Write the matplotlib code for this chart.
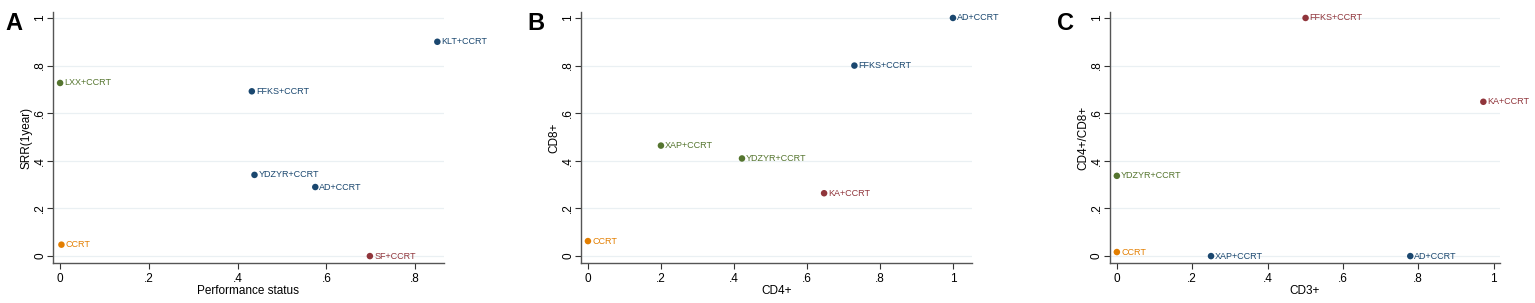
import matplotlib
matplotlib.use("Agg")
import matplotlib.pyplot as plt

plt.rcParams['font.family'] = ['Liberation Sans', 'DejaVu Sans']

NAVY = '#1a476f'
MAROON = '#90353b'
GREEN = '#55752f'
ORANGE = '#e37e00'

# Panel A
a_labels = ['KLT+CCRT', 'LXX+CCRT', 'FFKS+CCRT', 'YDZYR+CCRT', 'AD+CCRT', 'CCRT', 'SF+CCRT']
a_x = [0.850, 0.0, 0.432, 0.438, 0.575, 0.003, 0.698]
a_y = [0.900, 0.727, 0.692, 0.341, 0.290, 0.048, 0.0]
a_col = [NAVY, GREEN, NAVY, NAVY, NAVY, ORANGE, MAROON]

# Panel B
b_labels = ['AD+CCRT', 'FFKS+CCRT', 'XAP+CCRT', 'YDZYR+CCRT', 'KA+CCRT', 'CCRT']
b_x = [1.0, 0.730, 0.200, 0.422, 0.647, 0.0]
b_y = [1.0, 0.800, 0.464, 0.410, 0.264, 0.063]
b_col = [NAVY, NAVY, GREEN, GREEN, MAROON, ORANGE]

# Panel C
c_labels = ['FFKS+CCRT', 'KA+CCRT', 'YDZYR+CCRT', 'CCRT', 'XAP+CCRT', 'AD+CCRT']
c_x = [0.501, 0.973, 0.0, 0.0, 0.250, 0.779]
c_y = [1.0, 0.648, 0.337, 0.017, 0.0, 0.0]
c_col = [MAROON, MAROON, GREEN, ORANGE, NAVY, NAVY]

x_ticks_a = [0, 0.2, 0.4, 0.6, 0.8]
x_ticks_bc = [0, 0.2, 0.4, 0.6, 0.8, 1.0]
y_ticks = [0, 0.2, 0.4, 0.6, 0.8, 1.0]
tick_text = {0: '0', 0.2: '.2', 0.4: '.4', 0.6: '.6', 0.8: '.8', 1.0: '1'}

W, H = 1535, 303
fig = plt.figure(figsize=(W / 100, H / 100), dpi=100)
fig.patch.set_facecolor('white')

panels = [
    dict(letter='A', rect=(53, 444), xlim=(-0.016, 0.865), xt=x_ticks_a,
         xlabel='Performance status', ylabel='SRR(1year)',
         lab=a_labels, x=a_x, y=a_y, col=a_col, letter_x=5),
    dict(letter='B', rect=(581, 972.3), xlim=(-0.019, 1.053), xt=x_ticks_bc,
         xlabel='CD4+', ylabel='CD8+',
         lab=b_labels, x=b_x, y=b_y, col=b_col, letter_x=527),
    dict(letter='C', rect=(1109.7, 1500.3), xlim=(-0.019, 1.018), xt=x_ticks_bc,
         xlabel='CD3+', ylabel='CD4+/CD8+',
         lab=c_labels, x=c_x, y=c_y, col=c_col, letter_x=1057),
]

top_px, bot_px = 12, 263
for p in panels:
    l, r = p['rect']
    ax = fig.add_axes([l / W, 1 - bot_px / H, (r - l) / W, (bot_px - top_px) / H])
    ax.set_xlim(*p['xlim'])
    ax.set_ylim(-0.029, 1.025)
    for s in ['top', 'right']:
        ax.spines[s].set_visible(False)
    for s in ['left', 'bottom']:
        ax.spines[s].set_color('#555555')
        ax.spines[s].set_linewidth(1.0)
    ax.set_yticks(y_ticks)
    ax.set_yticklabels([tick_text[t] for t in y_ticks], rotation=90, va='center')
    ax.set_xticks(p['xt'])
    ax.set_xticklabels([tick_text[t] for t in p['xt']])
    ax.tick_params(axis='both', labelsize=8.5, colors='#333333', length=4, width=0.8,
                   labelcolor='black')
    ax.tick_params(axis='x', pad=3)
    ax.tick_params(axis='y', pad=1)
    for yt in y_ticks:
        ax.axhline(yt, color='#eaf0f3', lw=0.9, zorder=0)
    ax.set_xlabel(p['xlabel'], fontsize=8.5, labelpad=0)
    ax.set_ylabel(p['ylabel'], fontsize=8.5, labelpad=1)
    ax.scatter(p['x'], p['y'], s=22, c=p['col'], zorder=3, clip_on=False, linewidths=0)
    for lab, xx, yy, cc in zip(p['lab'], p['x'], p['y'], p['col']):
        ax.annotate(lab, (xx, yy), xytext=(3, 0), textcoords='offset points',
                    color=cc, fontsize=6.5, va='center', ha='left', annotation_clip=False)
    fig.text(p['letter_x'] / W, 1 - 24 / H, p['letter'], fontsize=17, fontweight='bold',
             va='center', ha='left')

fig.savefig('out.png', dpi=100, facecolor='white')
